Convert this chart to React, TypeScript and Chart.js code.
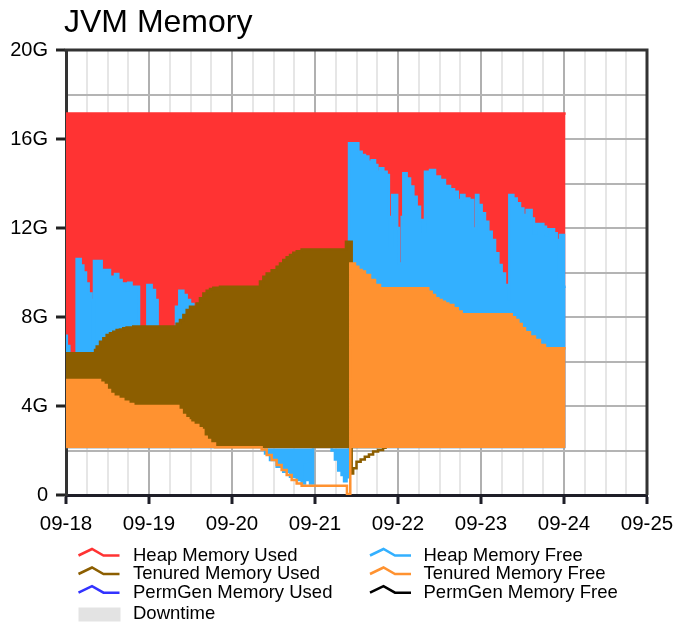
import { useEffect, useRef } from 'react';
import { Chart, registerables } from 'chart.js';

Chart.register(...registerables);

// ---- tick labels ----
const X_LABELS = ['09-18', '09-19', '09-20', '09-21', '09-22', '09-23', '09-24', '09-25'];
const Y_LABELS = ['0', '4G', '8G', '12G', '16G', '20G'];
const TITLE = 'JVM Memory';

// ---- series: [day offset from 09-18, GB] (value holds until next point) ----
const HEAP_USED: [number, number][] = [
  [0, 17.15], [0.32, 17.02], [0.335, 17.15], [1.34, 17.03], [1.36, 17.15], [1.45, 17.02], [1.47, 17.15],
  [1.58, 17.04], [1.6, 17.15], [2.34, 17.03], [2.36, 17.15], [2.45, 17.0], [2.47, 17.15], [2.55, 17.03],
  [2.57, 17.15], [2.64, 17.02], [2.66, 17.15], [2.97, 17.03], [2.99, 17.15], [3.34, 17.02], [3.36, 17.15],
  [3.46, 17.03], [3.48, 17.15], [3.75, 17.03], [3.765, 17.15], [4.39, 17.04], [4.405, 17.15],
  [5.37, 17.04], [5.385, 17.15], [6.02, 17.15],
];

const HEAP_FREE: [number, number][] = [
  [0, 7.16], [0.01, 6.7], [0.04, 6.0], [0.128, 10.61], [0.177, 10.31], [0.209, 10.0], [0.241, 9.51],
  [0.273, 9.06], [0.305, 8.76], [0.321, 6.0], [0.337, 10.52], [0.43, 10.11], [0.53, 9.81], [0.59, 9.93],
  [0.63, 9.66], [0.67, 9.51], [0.73, 9.21], [0.75, 9.54], [0.79, 9.36], [0.88, 7.0], [0.98, 9.44],
  [1.032, 9.21], [1.072, 8.76], [1.104, 7.0], [1.325, 8.46], [1.365, 9.18], [1.414, 8.99], [1.454, 8.76],
  [1.494, 8.58], [1.534, 7.8], [1.9, 5.5], [2.2, 3.5], [2.398, 1.87], [2.458, 1.57], [2.538, 1.27],
  [2.618, 1.05], [2.699, 0.82], [2.779, 0.67], [2.839, 0.52], [2.88, 1.35], [2.9, 0.67], [2.92, 1.42],
  [2.94, 0.52], [2.976, 4.0], [3.2, 2.0], [3.24, 1.6], [3.28, 1.1], [3.3, 1.5], [3.32, 0.9], [3.35, 0.62],
  [3.38, 0.8], [3.41, 15.81], [3.522, 15.43], [3.562, 15.28], [3.602, 15.21], [3.643, 14.98], [3.683, 15.05],
  [3.723, 14.83], [3.751, 14.53], [3.783, 14.68], [3.823, 14.53], [3.863, 14.38], [3.89, 12.5], [3.905, 11.2],
  [3.93, 13.48], [3.99, 12.0], [4.01, 10.4], [4.045, 12.5], [4.064, 14.46], [4.104, 14.23], [4.145, 13.86],
  [4.185, 13.41], [4.225, 12.96], [4.265, 12.36], [4.297, 11.83], [4.325, 14.53], [4.386, 14.61],
  [4.446, 14.31], [4.506, 14.16], [4.566, 13.89], [4.627, 13.74], [4.675, 13.63], [4.72, 13.26],
  [4.76, 13.48], [4.8, 13.33], [4.86, 13.26], [4.905, 11.98], [4.94, 13.48], [4.968, 13.03], [5.008, 12.66],
  [5.048, 12.28], [5.088, 11.83], [5.129, 11.46], [5.169, 10.86], [5.209, 10.34], [5.249, 9.96],
  [5.289, 9.44], [5.329, 8.79], [5.341, 13.48], [5.39, 13.33], [5.43, 13.11], [5.47, 12.88], [5.51, 12.58],
  [5.55, 12.81], [5.61, 12.43], [5.638, 11.76], [5.662, 12.18], [5.751, 12.06], [5.783, 11.69],
  [5.799, 11.94], [5.851, 11.94], [5.88, 11.76], [5.912, 11.46], [5.932, 9.76], [5.952, 11.69],
  [5.984, 11.69], [6.0, 9.36], [6.02, 9.36],
];

const TENURED_USED: [number, number][] = [
  [0, 6.37], [0.35, 6.52], [0.37, 6.67], [0.41, 6.89], [0.45, 7.04], [0.49, 7.19], [0.53, 7.27],
  [0.57, 7.34], [0.61, 7.42], [0.65, 7.44], [0.69, 7.49], [0.73, 7.53], [0.81, 7.57], [1.333, 7.7],
  [1.373, 7.87], [1.414, 8.09], [1.454, 8.31], [1.494, 8.46], [1.574, 8.61], [1.614, 8.84], [1.655, 9.06],
  [1.695, 9.18], [1.735, 9.26], [1.775, 9.32], [1.855, 9.36], [2.337, 9.59], [2.378, 9.81], [2.418, 9.96],
  [2.478, 10.1], [2.538, 10.26], [2.578, 10.41], [2.618, 10.56], [2.659, 10.68], [2.699, 10.79],
  [2.739, 10.89], [2.78, 10.95], [2.839, 11.03], [3.373, 11.38], [3.442, 0.97], [3.46, 1.2], [3.5, 1.5],
  [3.55, 1.6], [3.6, 1.72], [3.65, 1.82], [3.7, 1.95], [3.76, 2.02], [3.82, 2.12], [3.85, 2.2],
];

const TENURED_FREE: [number, number][] = [
  [0, 5.17], [0.41, 5.05], [0.45, 4.94], [0.49, 4.72], [0.53, 4.54], [0.57, 4.42], [0.63, 4.31],
  [0.69, 4.19], [0.75, 4.09], [0.81, 4.0], [1.353, 3.82], [1.393, 3.6], [1.434, 3.45], [1.474, 3.35],
  [1.494, 3.25], [1.534, 3.15], [1.594, 3.0], [1.634, 2.92], [1.655, 2.62], [1.695, 2.47], [1.735, 2.32],
  [1.795, 2.15], [2.357, 2.05], [2.418, 1.8], [2.478, 1.57], [2.538, 1.35], [2.598, 1.12], [2.659, 0.9],
  [2.719, 0.67], [2.779, 0.52], [2.839, 0.42], [3.385, 0.05], [3.425, 10.41], [3.482, 10.26],
  [3.522, 10.11], [3.562, 10.04], [3.602, 9.89], [3.663, 9.66], [3.723, 9.44], [3.783, 9.29],
  [4.365, 9.14], [4.406, 8.99], [4.446, 8.84], [4.486, 8.76], [4.526, 8.69], [4.566, 8.61], [4.606, 8.54],
  [4.667, 8.39], [4.72, 8.25], [4.767, 8.12], [5.37, 7.99], [5.41, 7.87], [5.45, 7.69], [5.49, 7.49],
  [5.53, 7.31], [5.59, 7.12], [5.65, 6.97], [5.71, 6.74], [5.771, 6.59], [6.02, 6.59],
];

const PERMGEN_USED: [number, number][] = [];
const PERMGEN_FREE: [number, number][] = [];
const DOWNTIME: [number, number][] = [];

const FILL_BASE = 2.1;

const RED = '#ff3333';
const BLUE = '#33b0ff';
const BROWN = '#8c5e00';
const ORANGE = '#ff9230';
const PG_BLUE = '#3333ff';
const BLACK = '#000000';
const DOWN_GRAY = '#e3e3e3';
const NONE = 'rgba(0,0,0,0)';

const FONT = "'Liberation Sans', Arial, Helvetica, sans-serif";

// plot box in canvas pixels
const AREA = { left: 66, top: 50, right: 647, bottom: 495 };

const pts = (a: [number, number][]) => a.map(([x, y]) => ({ x, y }));

export default function App() {
  const ref = useRef<HTMLCanvasElement>(null);

  useEffect(() => {
    if (!ref.current) return;

    const fixLayout = {
      id: 'fixLayout',
      afterLayout(chart: any) {
        const ca = chart.chartArea;
        ca.left = AREA.left; ca.right = AREA.right; ca.top = AREA.top; ca.bottom = AREA.bottom;
        ca.width = AREA.right - AREA.left; ca.height = AREA.bottom - AREA.top;
        const xs = chart.scales.x;
        xs.left = AREA.left; xs.right = AREA.right; xs.width = AREA.right - AREA.left;
        xs.top = AREA.bottom; xs.bottom = AREA.bottom + 40; xs.height = 40;
        xs.configure();
        const ys = chart.scales.y;
        ys.top = AREA.top; ys.bottom = AREA.bottom; ys.height = AREA.bottom - AREA.top;
        ys.left = 0; ys.right = AREA.left; ys.width = AREA.left;
        ys.configure();
      },
    };

    const framePlugin = {
      id: 'frameAndLegend',
      afterDraw(chart: any) {
        const { ctx, chartArea } = chart;
        const { left, right, top, bottom } = chartArea;
        ctx.save();
        // top & right frame
        ctx.strokeStyle = '#333';
        ctx.lineWidth = 3;
        ctx.beginPath();
        ctx.moveTo(left - 1.5, top);
        ctx.lineTo(right, top);
        ctx.lineTo(right, bottom);
        ctx.stroke();

        // title
        ctx.fillStyle = '#000';
        ctx.font = `32px ${FONT}`;
        ctx.textBaseline = 'alphabetic';
        ctx.textAlign = 'left';
        ctx.fillText(TITLE, 64, 32);

        // legend (2 columns, row-wise)
        const colIcon = [78.5, 370];
        const colText = [133, 423.5];
        const rowY = [555.5, 574, 592.7, 614];
        ctx.font = `18.5px ${FONT}`;
        chart.data.datasets.forEach((ds: any, i: number) => {
          const col = i % 2;
          const row = Math.floor(i / 2);
          const x0 = colIcon[col];
          const yc = rowY[row];
          if (ds.legendBox) {
            ctx.fillStyle = ds.backgroundColor;
            ctx.fillRect(x0, yc - 6.5, 42, 14);
          } else {
            ctx.strokeStyle = ds.borderColor;
            ctx.lineWidth = 2.5;
            ctx.lineJoin = 'miter';
            ctx.beginPath();
            ctx.moveTo(x0, yc);
            ctx.lineTo(x0 + 13.5, yc - 6.5);
            ctx.lineTo(x0 + 25, yc);
            ctx.lineTo(x0 + 41, yc);
            ctx.stroke();
          }
          ctx.fillStyle = '#000';
          ctx.textBaseline = 'middle';
          ctx.fillText(ds.label, colText[col], yc);
        });
        ctx.restore();
      },
    };

    const area = (label: string, data: [number, number][], color: string, below: string, order: number) => ({
      label,
      data: pts(data),
      borderColor: color,
      backgroundColor: color,
      borderWidth: 2.5,
      pointRadius: 0,
      stepped: true,
      tension: 0,
      order,
      fill: { target: { value: FILL_BASE }, above: color, below },
    });

    const chart = new Chart(ref.current, {
      type: 'line',
      data: {
        datasets: [
          area('Heap Memory Used', HEAP_USED, RED, NONE, 4),
          area('Heap Memory Free', HEAP_FREE, BLUE, BLUE, 3),
          area('Tenured Memory Used', TENURED_USED, BROWN, NONE, 2),
          area('Tenured Memory Free', TENURED_FREE, ORANGE, NONE, 1),
          { label: 'PermGen Memory Used', data: pts(PERMGEN_USED), borderColor: PG_BLUE, backgroundColor: PG_BLUE, pointRadius: 0, order: 0 },
          { label: 'PermGen Memory Free', data: pts(PERMGEN_FREE), borderColor: BLACK, backgroundColor: BLACK, pointRadius: 0, order: 0 },
          { label: 'Downtime', data: pts(DOWNTIME), borderColor: DOWN_GRAY, backgroundColor: DOWN_GRAY, pointRadius: 0, order: 0, legendBox: true } as any,
        ],
      },
      options: {
        responsive: false,
        devicePixelRatio: 1,
        animation: false,
        events: [],
        layout: { autoPadding: false, padding: { top: 50, right: 29, bottom: 88, left: 0 } } as any,
        plugins: {
          legend: { display: false },
          title: { display: false },
          tooltip: { enabled: false },
        },
        scales: {
          x: {
            type: 'linear',
            min: 0,
            max: 7,
            afterFit: (s: any) => { s.height = 40; },
            border: { display: true, color: '#1e1e28', width: 3 },
            grid: {
              color: (c: any) => (Number.isInteger(c.tick?.value) ? '#b0b0b0' : '#e6e6e6'),
              lineWidth: 2,
              tickColor: (c: any) => (Number.isInteger(c.tick?.value) ? '#1e1e28' : NONE),
              tickWidth: 3,
              tickLength: 9,
            },
            ticks: {
              stepSize: 0.25,
              autoSkip: false,
              maxRotation: 0,
              minRotation: 0,
              padding: 8,
              color: '#000',
              font: { family: FONT, size: 20.5 },
              callback: (v: any) => (Number.isInteger(v) ? X_LABELS[v] : ''),
            },
          },
          y: {
            type: 'linear',
            min: 0,
            max: 20,
            afterFit: (s: any) => { s.width = 66; },
            border: { display: true, color: '#333', width: 3 },
            grid: {
              color: '#b4b4b4',
              lineWidth: 2,
              tickColor: (c: any) => (c.tick && c.tick.value % 4 === 0 ? '#222' : NONE),
              tickWidth: 3,
              tickLength: 10,
            },
            ticks: {
              stepSize: 2,
              autoSkip: false,
              padding: 8,
              color: '#000',
              font: { family: FONT, size: 20 },
              callback: (v: any) => (v % 4 === 0 ? Y_LABELS[v / 4] : ''),
            },
          },
        },
      },
      plugins: [fixLayout, framePlugin],
    });

    return () => chart.destroy();
  }, []);

  return (
    <div style={{ position: 'absolute', left: 0, top: 0, width: 676, height: 623 }}>
      <canvas ref={ref} width={676} height={623} style={{ display: 'block', width: 676, height: 623 }} />
    </div>
  );
}
